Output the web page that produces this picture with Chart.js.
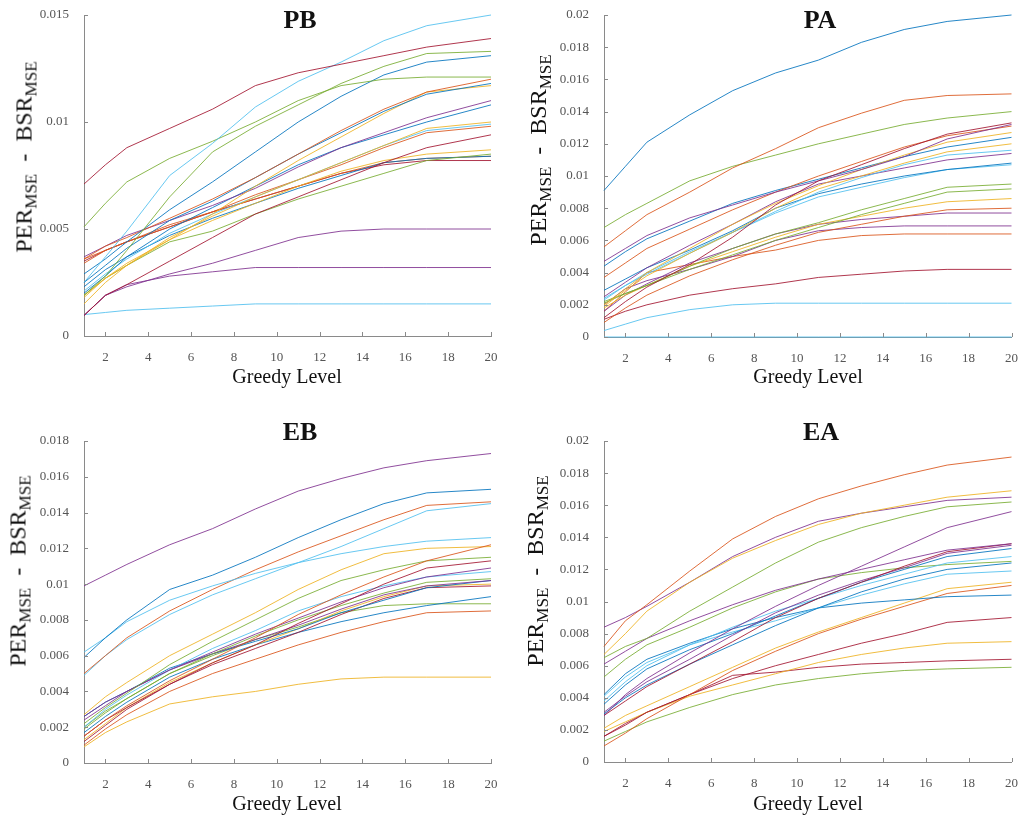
<!DOCTYPE html>
<html lang="en">
<head>
<meta charset="UTF-8">
<title>PER - BSR vs Greedy Level</title>
<script src="https://cdn.jsdelivr.net/npm/chart.js@4.4.3/dist/chart.umd.min.js"></script>
<style>
  body { margin: 0; background: #fff; width: 1024px; height: 820px; position: relative; overflow: hidden; font-family: "Liberation Serif", serif; color: #111; }
  .panel { position: absolute; width: 512px; height: 410px; }
  .title { position: absolute; font-weight: bold; font-size: 26px; transform: translate(-50%, -50%); white-space: nowrap; }
  .xlab { position: absolute; font-size: 20px; transform: translate(-50%, -50%); white-space: nowrap; }
  .ylab { position: absolute; font-size: 24px; transform: translate(-50%, -50%) rotate(-90deg); white-space: nowrap; }
  .ylab sub { font-size: 17px; vertical-align: -5px; }
</style>
</head>
<body>

<div class="panel" style="left:0;top:0"><canvas id="pb" width="512" height="410"></canvas></div>
<div class="panel" style="left:512px;top:0"><canvas id="pa" width="512" height="410"></canvas></div>
<div class="panel" style="left:0;top:426px"><canvas id="eb" width="512" height="410"></canvas></div>
<div class="panel" style="left:512px;top:426px"><canvas id="ea" width="512" height="410"></canvas></div>

<div class="title" style="left:300px;top:20px">PB</div>
<div class="title" style="left:820px;top:20px">PA</div>
<div class="title" style="left:300px;top:432px">EB</div>
<div class="title" style="left:821px;top:432px">EA</div>

<div class="xlab" style="left:287px;top:376px">Greedy Level</div>
<div class="xlab" style="left:808px;top:376px">Greedy Level</div>
<div class="xlab" style="left:287px;top:803px">Greedy Level</div>
<div class="xlab" style="left:808px;top:803px">Greedy Level</div>

<div class="ylab" style="left:26px;top:157px">PER<sub>MSE</sub>&nbsp; - &nbsp;BSR<sub>MSE</sub></div>
<div class="ylab" style="left:540px;top:150px">PER<sub>MSE</sub>&nbsp; - &nbsp;BSR<sub>MSE</sub></div>
<div class="ylab" style="left:20px;top:571px">PER<sub>MSE</sub>&nbsp; - &nbsp;BSR<sub>MSE</sub></div>
<div class="ylab" style="left:537px;top:571px">PER<sub>MSE</sub>&nbsp; - &nbsp;BSR<sub>MSE</sub></div>

<script>
const greedyLevels = [1, 2, 3, 5, 7, 9, 11, 13, 15, 17, 20];
const xTickLabels = [2, 4, 6, 8, 10, 12, 14, 16, 18, 20];

const pbYTicks = [0, 0.005, 0.01, 0.015];
const paYTicks = [0, 0.002, 0.004, 0.006, 0.008, 0.01, 0.012, 0.014, 0.016, 0.018, 0.02];
const ebYTicks = [0, 0.002, 0.004, 0.006, 0.008, 0.01, 0.012, 0.014, 0.016, 0.018];
const eaYTicks = [0, 0.002, 0.004, 0.006, 0.008, 0.01, 0.012, 0.014, 0.016, 0.018, 0.02];

// matlab default line colours (slightly faded like the scan)
const lineColors = [
  'rgba(0,114,189,0.85)', 'rgba(217,83,25,0.85)', 'rgba(237,177,32,0.85)', 'rgba(126,47,142,0.85)',
  'rgba(119,172,48,0.85)', 'rgba(77,190,238,0.85)', 'rgba(162,20,47,0.85)'
];

const pbSeries = [
  [.0071, .0080, .0088, .0097, .0106, .0117, .0123, .0127, .0131, .0135, .0139],
  [.0025, .0037, .0049, .0075, .0090, .0107, .0119, .0128, .0138, .0145, .0150],
  [.0051, .0062, .0072, .0083, .0091, .0100, .0110, .0117, .0120, .0121, .0121],
  [.0019, .0028, .0040, .0065, .0086, .0098, .0108, .0118, .0126, .0132, .0133],
  [.0029, .0036, .0044, .0059, .0072, .0086, .0100, .0112, .0122, .0128, .0131],
  [.0036, .0042, .0046, .0055, .0064, .0074, .0085, .0096, .0106, .0114, .0120],
  [.0025, .0033, .0041, .0054, .0063, .0074, .0085, .0095, .0105, .0113, .0118],
  [.0018, .0027, .0033, .0045, .0057, .0070, .0082, .0093, .0104, .0114, .0117],
  [.0037, .0042, .0047, .0054, .0061, .0069, .0079, .0088, .0095, .0102, .0110],
  [.0020, .0028, .0037, .0050, .0060, .0070, .0080, .0088, .0094, .0100, .0108],
  [.0015, .0025, .0033, .0046, .0056, .0065, .0073, .0081, .0089, .0097, .0100],
  [.0021, .0029, .0036, .0048, .0057, .0065, .0073, .0081, .0089, .0096, .0099],
  [.0034, .0040, .0044, .0051, .0058, .0066, .0073, .0080, .0088, .0095, .0098],
  [.00096, .0019, .0024, .0035, .0046, .0057, .0065, .0073, .0081, .0088, .0094],
  [.0019, .0027, .0034, .0045, .0054, .0062, .0070, .0077, .0082, .0085, .0087],
  [.0019, .0027, .0033, .0044, .0049, .0057, .0064, .0070, .0076, .0082, .0085],
  [.0023, .0031, .0037, .0047, .0055, .0062, .0069, .0075, .0081, .0083, .0084],
  [.0036, .0040, .0044, .0052, .0058, .0064, .0070, .0076, .0081, .0083, .0084],
  [.0035, .0040, .0044, .0051, .0058, .0064, .0070, .0076, .0080, .0082, .0082],
  [.00096, .0019, .0023, .0029, .0034, .0040, .0046, .0049, .0050, .0050, .0050],
  [.00096, .0019, .0024, .0028, .0030, .0032, .0032, .0032, .0032, .0032, .0032],
  [.00100, .0011, .0012, .0013, .0014, .0015, .0015, .0015, .0015, .0015, .0015]
];
const pbColorIdx = [6, 5, 4, 4, 0, 1, 0, 2, 3, 0, 2, 5, 1, 6, 2, 4, 0, 1, 6, 3, 3, 5];

const paSeries = [
  [.0091, .0106, .0121, .0138, .0153, .0164, .0172, .0183, .0191, .0196, .0200],
  [.0056, .0066, .0076, .0090, .0105, .0117, .0130, .0139, .0147, .0150, .0151],
  [.0068, .0076, .0083, .0097, .0106, .0113, .0120, .0126, .0132, .0136, .0140],
  [.0012, .0022, .0031, .0045, .0062, .0082, .0097, .0107, .0117, .0126, .0133],
  [.0047, .0055, .0063, .0074, .0082, .0090, .0097, .0104, .0112, .0123, .0132],
  [.0037, .0046, .0055, .0067, .0079, .0090, .0100, .0109, .0118, .0125, .0131],
  [.0020, .0030, .0040, .0055, .0070, .0083, .0094, .0104, .0113, .0121, .0127],
  [.0044, .0053, .0061, .0072, .0083, .0091, .0098, .0105, .0112, .0118, .0124],
  [.0019, .0029, .0038, .0052, .0065, .0080, .0092, .0100, .0108, .0115, .0120],
  [.0023, .0032, .0040, .0053, .0065, .0078, .0090, .0099, .0107, .0113, .0116],
  [.0025, .0034, .0043, .0057, .0070, .0084, .0095, .0100, .0105, .0110, .0114],
  [.0029, .0036, .0043, .0054, .0066, .0080, .0089, .0095, .0100, .0104, .0108],
  [.0024, .0032, .0039, .0052, .0065, .0077, .0087, .0093, .0099, .0104, .0107],
  [.0022, .0027, .0032, .0044, .0055, .0064, .0071, .0079, .0086, .0093, .0095],
  [.0021, .0027, .0032, .0042, .0051, .0060, .0068, .0076, .0083, .0090, .0092],
  [.0018, .0026, .0032, .0044, .0053, .0062, .0070, .0075, .0080, .0084, .0086],
  [.0009, .0018, .0026, .0038, .0048, .0057, .0065, .0070, .0075, .0079, .0080],
  [.0016, .0026, .0033, .0046, .0055, .0064, .0070, .0073, .0075, .0077, .0077],
  [.0020, .0030, .0035, .0042, .0050, .0060, .0066, .0068, .0069, .0069, .0069],
  [.0016, .0028, .0040, .0045, .0050, .0054, .0060, .0063, .0064, .0064, .0064],
  [.0011, .0016, .0020, .0026, .0030, .0033, .0037, .0039, .0041, .0042, .0042],
  [.0004, .0008, .0012, .0017, .0020, .0021, .0021, .0021, .0021, .0021, .0021],
  [0, 0, 0, 0, 0, 0, 0, 0, 0, 0, 0]
];
const paColorIdx = [0, 1, 4, 6, 3, 1, 2, 0, 2, 5, 3, 0, 5, 4, 4, 2, 1, 3, 3, 1, 6, 5, 5];

const ebSeries = [
  [.0099, .0105, .0111, .0122, .0131, .0142, .0152, .0159, .0165, .0169, .0173],
  [.0059, .0070, .0080, .0097, .0105, .0115, .0126, .0136, .0145, .0151, .0153],
  [.0062, .0070, .0079, .0091, .0099, .0106, .0112, .0117, .0121, .0124, .0126],
  [.0050, .0060, .0070, .0085, .0097, .0108, .0118, .0127, .0136, .0144, .0146],
  [.0049, .0060, .0069, .0083, .0094, .0103, .0112, .0121, .0131, .0141, .0145],
  [.0015, .0024, .0032, .0046, .0058, .0070, .0083, .0094, .0104, .0113, .0122],
  [.0027, .0037, .0045, .0060, .0072, .0084, .0097, .0108, .0117, .0120, .0121],
  [.0022, .0031, .0039, .0055, .0068, .0080, .0092, .0102, .0108, .0113, .0115],
  [.0015, .0024, .0031, .0044, .0056, .0066, .0078, .0089, .0100, .0109, .0113],
  [.0024, .0032, .0040, .0052, .0062, .0072, .0081, .0090, .0098, .0104, .0109],
  [.0020, .0030, .0038, .0052, .0064, .0074, .0085, .0093, .0099, .0104, .0107],
  [.0019, .0028, .0036, .0050, .0061, .0071, .0080, .0088, .0095, .0101, .0103],
  [.0026, .0034, .0040, .0052, .0061, .0069, .0077, .0086, .0094, .0099, .0102],
  [.0026, .0034, .0040, .0053, .0061, .0068, .0075, .0084, .0091, .0098, .0102],
  [.0012, .0021, .0030, .0044, .0055, .0064, .0073, .0083, .0092, .0098, .0099],
  [.0013, .0022, .0031, .0045, .0056, .0066, .0075, .0085, .0093, .0099, .0100],
  [.0017, .0026, .0034, .0048, .0058, .0066, .0073, .0079, .0084, .0088, .0093],
  [.0020, .0029, .0036, .0050, .0060, .0069, .0076, .0084, .0088, .0089, .0089],
  [.0010, .0019, .0027, .0040, .0050, .0058, .0066, .0073, .0079, .0084, .0085],
  [.0009, .0017, .0023, .0033, .0037, .0040, .0044, .0047, .0048, .0048, .0048]
];
const ebColorIdx = [3, 0, 5, 1, 5, 1, 2, 4, 6, 3, 5, 4, 3, 0, 6, 2, 0, 4, 1, 2];

const eaSeries = [
  [.0072, .0088, .0098, .0119, .0139, .0153, .0164, .0172, .0179, .0185, .0190],
  [.0067, .0080, .0094, .0112, .0127, .0138, .0148, .0155, .0160, .0165, .0169],
  [.0084, .0090, .0097, .0112, .0128, .0140, .0150, .0155, .0159, .0163, .0165],
  [.0065, .0072, .0077, .0094, .0109, .0124, .0137, .0146, .0153, .0159, .0162],
  [.0029, .0042, .0052, .0068, .0083, .0097, .0110, .0122, .0134, .0146, .0156],
  [.0061, .0069, .0077, .0088, .0098, .0107, .0114, .0120, .0126, .0132, .0136],
  [.0029, .0038, .0047, .0061, .0075, .0090, .0102, .0112, .0122, .0131, .0136],
  [.0031, .0041, .0050, .0064, .0079, .0093, .0104, .0113, .0121, .0130, .0135],
  [.0036, .0048, .0058, .0070, .0080, .0091, .0102, .0112, .0120, .0128, .0133],
  [.0038, .0050, .0060, .0073, .0084, .0094, .0102, .0110, .0117, .0124, .0128],
  [.0053, .0064, .0073, .0084, .0096, .0106, .0114, .0118, .0121, .0123, .0125],
  [.0030, .0040, .0048, .0061, .0073, .0085, .0096, .0106, .0114, .0120, .0124],
  [.0041, .0053, .0062, .0073, .0081, .0088, .0096, .0104, .0111, .0117, .0119],
  [.0042, .0055, .0064, .0074, .0083, .0090, .0096, .0099, .0101, .0103, .0104],
  [.0021, .0029, .0035, .0047, .0059, .0071, .0081, .0090, .0099, .0108, .0112],
  [.0010, .0018, .0027, .0042, .0057, .0069, .0080, .0089, .0097, .0105, .0110],
  [.0016, .0023, .0031, .0042, .0052, .0060, .0067, .0074, .0080, .0087, .0090],
  [.0019, .0025, .0031, .0041, .0048, .0055, .0062, .0067, .0071, .0074, .0075],
  [.0016, .0024, .0031, .0042, .0054, .0056, .0059, .0061, .0062, .0063, .0064],
  [.0013, .0019, .0025, .0034, .0042, .0048, .0052, .0055, .0057, .0058, .0059]
];
const eaColorIdx = [1, 2, 3, 4, 3, 3, 6, 3, 0, 5, 4, 0, 5, 0, 2, 1, 6, 2, 6, 4];

// matlab style ticks pointing into the plot
const inwardTicks = {
  id: 'inwardTicks',
  afterDraw(chart) {
    const { ctx, chartArea: a } = chart;
    const x = chart.scales.x, y = chart.scales.y;
    ctx.save();
    ctx.strokeStyle = '#8a8a8a';
    ctx.lineWidth = 1;
    ctx.beginPath();
    x.ticks.forEach(t => {
      const px = Math.round(x.getPixelForValue(t.value)) + 0.5;
      ctx.moveTo(px, a.bottom);
      ctx.lineTo(px, a.bottom - 4);
    });
    y.ticks.forEach(t => {
      const py = Math.round(y.getPixelForValue(t.value)) + 0.5;
      ctx.moveTo(a.left, py);
      ctx.lineTo(a.left + 4, py);
    });
    ctx.stroke();
    ctx.restore();
  }
};

function makeChart(id, series, colorIdx, yTicks, box) {
  const tickFont = { family: 'Liberation Serif', size: 13 };
  new Chart(document.getElementById(id), {
    type: 'line',
    data: {
      datasets: series.map((vals, i) => ({
        data: vals.map((v, j) => ({ x: greedyLevels[j], y: v })),
        borderColor: lineColors[colorIdx[i]],
        borderWidth: 1,
        pointRadius: 0,
        tension: 0,
        fill: false,
        clip: false
      }))
    },
    options: {
      responsive: false,
      animation: false,
      events: [],
      layout: { padding: { left: 0, right: 512 - box.right, top: box.top, bottom: 0 } },
      plugins: { legend: { display: false }, tooltip: { enabled: false } },
      scales: {
        x: {
          type: 'linear',
          min: 1,
          max: 20,
          afterBuildTicks: s => { s.ticks = xTickLabels.map(v => ({ value: v })); },
          afterFit: s => { s.height = 410 - box.bottom; },
          grid: { display: false },
          border: { color: '#8a8a8a' },
          ticks: { font: tickFont, color: '#555', padding: 6, maxRotation: 0, autoSkip: false }
        },
        y: {
          type: 'linear',
          min: 0,
          max: yTicks[yTicks.length - 1],
          afterBuildTicks: s => { s.ticks = yTicks.map(v => ({ value: v })); },
          afterFit: s => { s.width = box.left; },
          grid: { display: false },
          border: { color: '#8a8a8a' },
          ticks: {
            font: tickFont, color: '#555', padding: 7, autoSkip: false,
            callback: v => String(+Number(v).toFixed(4))
          }
        }
      }
    },
    plugins: [inwardTicks]
  });
}

makeChart('pb', pbSeries, pbColorIdx, pbYTicks, { left: 84, right: 491, top: 15, bottom: 336 });
makeChart('pa', paSeries, paColorIdx, paYTicks, { left: 92, right: 500, top: 15, bottom: 337 });
makeChart('eb', ebSeries, ebColorIdx, ebYTicks, { left: 84, right: 491, top: 15, bottom: 337 });
makeChart('ea', eaSeries, eaColorIdx, eaYTicks, { left: 92, right: 500, top: 15, bottom: 336 });
</script>
</body>
</html>
